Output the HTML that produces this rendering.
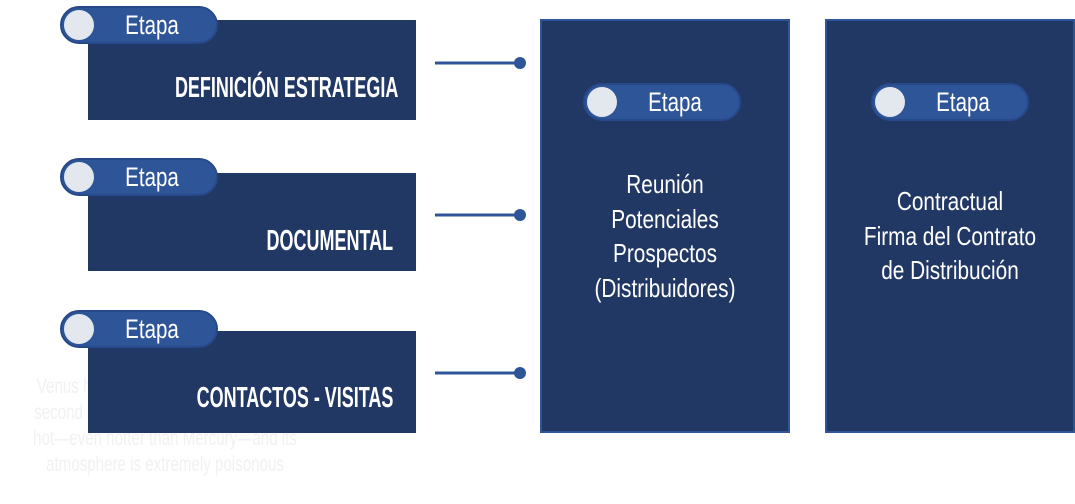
<!DOCTYPE html>
<html><head><meta charset="utf-8"><style>
body{margin:0;width:1075px;height:504px;background:#fff;position:relative;overflow:hidden;font-family:"Liberation Sans",sans-serif}
.a{position:absolute}
.box{position:absolute;background:#213865}
.pill{position:absolute;width:158px;height:38px;border-radius:19px;background:#2e5597;box-sizing:border-box;border:2px solid #27498a}
.pill .c{position:absolute;left:2px;top:2px;width:30px;height:30px;border-radius:50%;background:#e3e8ee}
.pill .t{position:absolute;left:40px;width:100px;top:3px;text-align:center;color:#fff;font-size:27px;line-height:28px;transform:scaleX(0.76)}
.lbl{position:absolute;color:#fff;font-weight:bold;font-size:29px;line-height:30px;white-space:nowrap;transform:scaleX(0.62);transform-origin:right center;text-align:right}
.ct{position:absolute;color:#fff;font-size:26px;line-height:34.5px;text-align:center;width:300px;transform:scaleX(0.8)}
.faint{position:absolute;left:-100px;width:530px;top:374px;text-align:center;color:#f1f1f1;font-size:21px;line-height:26px;white-space:nowrap;transform:scaleX(0.72)}
</style></head><body>
<div class="faint">Venus has a beautiful name and is the<br>second planet from the Sun. It's terribly<br>hot—even hotter than Mercury—and its<br>atmosphere is extremely poisonous</div>

<div class="box" style="left:88px;top:20px;width:328px;height:100px"></div>
<div class="box" style="left:88px;top:173px;width:328px;height:98px"></div>
<div class="box" style="left:88px;top:331px;width:328px;height:102px"></div>

<div class="lbl" style="right:677px;top:73px">DEFINICIÓN ESTRATEGIA</div>
<div class="lbl" style="right:682px;top:226px">DOCUMENTAL</div>
<div class="lbl" style="right:682px;top:383px">CONTACTOS - VISITAS</div>

<div class="pill" style="left:60px;top:6px"><div class="c"></div><div class="t">Etapa</div></div>
<div class="pill" style="left:60px;top:158px"><div class="c"></div><div class="t">Etapa</div></div>
<div class="pill" style="left:60px;top:310px"><div class="c"></div><div class="t">Etapa</div></div>

<svg class="a" style="left:0;top:0" width="1075" height="504">
<g stroke="#2e5597" stroke-width="3" fill="#2e5597">
<line x1="435" y1="63" x2="518" y2="63"/><circle cx="520" cy="63" r="6" stroke="none"/>
<line x1="435" y1="215" x2="518" y2="215"/><circle cx="520" cy="215" r="6" stroke="none"/>
<line x1="435" y1="373" x2="518" y2="373"/><circle cx="520" cy="373" r="6" stroke="none"/>
</g></svg>

<div class="box" style="left:540px;top:19px;width:250px;height:414px;box-sizing:border-box;border:2px solid #2e5597"></div>
<div class="box" style="left:825px;top:19px;width:250px;height:414px;box-sizing:border-box;border:2px solid #2e5597"></div>

<div class="pill" style="left:583px;top:83px"><div class="c"></div><div class="t">Etapa</div></div>
<div class="pill" style="left:871px;top:83px"><div class="c"></div><div class="t">Etapa</div></div>

<div class="ct" style="left:515px;top:167px">Reunión<br>Potenciales<br>Prospectos<br>(Distribuidores)</div>
<div class="ct" style="left:800px;top:184px">Contractual<br>Firma del Contrato<br>de Distribución</div>
</body></html>
